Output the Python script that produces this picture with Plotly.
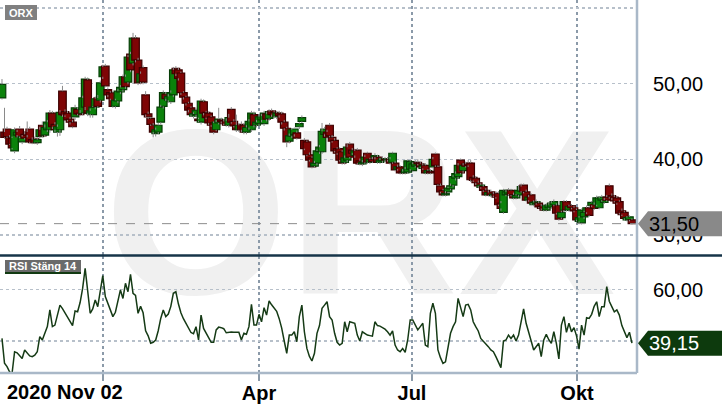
import plotly.graph_objects as go

# ---------------- data (one candle per trading day) ----------------
open_ = [48.1, 43.6, 44.0, 42.9, 42.8, 41.1, 43.2, 44.0, 42.3, 43.3,
         43.6, 44.0, 42.6, 42.7, 42.2, 43.0, 44.5, 43.2, 43.9, 43.9,
         46.1, 44.6, 43.6, 43.9, 49.0, 46.3, 46.1, 45.3, 44.9, 45.6,
         46.6, 46.1, 46.1, 46.9, 50.5, 46.0, 45.9, 46.9, 48.1, 47.8,
         50.9, 52.3, 49.2, 48.8, 48.8, 47.0, 47.7, 48.9, 49.2, 50.9,
         50.2, 53.9, 52.7, 56.0, 53.1, 50.2, 52.1, 48.5, 46.0, 45.4,
         44.5, 43.4, 43.6, 44.9, 47.0, 48.6, 47.8, 47.6, 48.5, 52.0,
         51.8, 51.4, 48.8, 48.2, 47.4, 46.8, 45.7, 45.9, 45.3, 44.9,
         47.6, 46.2, 46.1, 45.6, 44.8, 43.9, 44.8, 45.2, 45.0, 45.1,
         44.5, 46.6, 45.0, 44.5, 43.9, 44.6, 44.5, 43.6, 44.2, 43.9,
         45.9, 44.5, 44.7, 45.2, 44.7, 46.0, 45.4, 46.4, 46.2, 45.6,
         46.1, 46.0, 44.9, 44.1, 42.4, 43.1, 43.3, 43.5, 44.3, 45.0,
         42.5, 42.3, 40.6, 40.2, 39.1, 39.5, 41.0, 41.0, 43.3, 43.6,
         44.5, 42.9, 42.5, 41.4, 41.4, 41.0, 39.6, 39.9, 42.0, 41.2,
         40.5, 41.2, 39.8, 39.4, 39.6, 40.8, 39.6, 40.0, 40.3, 40.3,
         39.6, 39.8, 40.0, 39.9, 40.0, 39.6, 39.5, 38.7, 39.0, 38.4,
         38.2, 38.3, 38.7, 38.5, 39.1, 39.6, 39.4, 38.8, 39.2, 38.2,
         38.4, 39.0, 40.7, 39.0, 36.5, 35.9, 35.3, 35.7, 36.1, 36.6,
         37.5, 37.7, 39.9, 38.5, 39.4, 39.5, 39.5, 37.6, 37.5, 36.9,
         36.3, 36.4, 35.9, 35.3, 35.7, 35.2, 35.5, 35.5, 34.2, 33.0,
         35.3, 35.4, 35.9, 35.3, 34.9, 35.3, 35.8, 36.6, 35.7, 34.6,
         35.3, 34.0, 34.2, 34.2, 33.8, 33.9, 33.3, 33.6, 33.7, 34.0,
         33.9, 33.9, 32.3, 33.3, 34.4, 33.3, 33.9, 33.6, 33.3, 31.8,
         31.6, 32.4, 33.0, 33.6, 33.9, 34.0, 34.0, 33.6, 34.6, 34.3,
         35.0, 36.5, 35.2, 35.0, 34.9, 34.4, 33.2, 33.0, 32.0, 32.0,
         32.0]
high = [50.6, 46.8, 44.3, 43.2, 43.0, 44.2, 43.9, 44.4, 43.2, 43.6,
        45.0, 44.3, 42.9, 43.0, 42.9, 44.3, 45.0, 44.6, 45.2, 46.5,
        46.4, 44.9, 44.6, 46.5, 49.7, 46.6, 46.4, 45.6, 45.2, 47.2,
        46.9, 46.5, 48.4, 50.9, 50.8, 46.7, 47.0, 48.3, 48.5, 50.4,
        52.5, 52.6, 49.5, 49.0, 49.0, 48.0, 49.3, 49.8, 51.2, 51.2,
        53.8, 54.2, 56.7, 56.4, 53.4, 51.6, 52.4, 49.0, 46.3, 45.6,
        44.8, 44.2, 44.8, 47.2, 49.1, 48.9, 48.6, 49.1, 52.2, 52.3,
        52.1, 51.6, 49.0, 48.4, 47.6, 47.0, 46.2, 46.8, 45.5, 48.0,
        47.9, 46.4, 46.3, 45.8, 45.0, 45.2, 46.8, 45.5, 45.3, 45.4,
        46.0, 46.9, 45.3, 45.9, 44.8, 45.0, 44.8, 44.5, 45.3, 46.4,
        46.3, 45.2, 45.9, 46.0, 46.4, 46.3, 46.6, 46.7, 46.5, 46.4,
        46.4, 46.3, 45.2, 44.3, 43.4, 44.1, 44.2, 43.8, 44.9, 45.8,
        42.8, 42.5, 40.9, 40.4, 39.8, 41.3, 41.9, 44.8, 44.3, 43.9,
        44.8, 43.2, 42.8, 41.6, 41.6, 41.2, 40.5, 42.0, 42.3, 41.5,
        41.4, 41.5, 40.1, 39.9, 40.6, 41.0, 40.2, 40.3, 40.8, 40.6,
        40.2, 40.4, 40.3, 40.3, 40.3, 41.0, 39.8, 39.3, 39.2, 38.7,
        39.0, 40.0, 39.9, 39.6, 39.9, 40.0, 39.7, 39.5, 39.5, 38.7,
        38.7, 40.3, 40.9, 39.2, 36.8, 36.1, 35.8, 36.4, 36.8, 37.9,
        38.4, 39.5, 40.1, 39.5, 39.7, 39.9, 39.9, 37.9, 37.8, 37.2,
        36.9, 36.7, 36.2, 35.9, 36.0, 35.7, 35.8, 35.8, 34.5, 36.1,
        36.0, 36.2, 36.1, 35.6, 35.4, 36.6, 36.8, 36.8, 36.0, 35.3,
        35.5, 34.6, 34.7, 34.5, 34.1, 34.1, 34.2, 34.3, 34.5, 34.7,
        34.2, 34.1, 33.2, 34.6, 34.6, 34.0, 34.1, 33.9, 33.5, 32.5,
        33.5, 33.2, 33.9, 33.9, 34.5, 34.3, 35.2, 35.1, 35.3, 34.9,
        35.3, 36.8, 35.5, 35.3, 35.1, 34.6, 33.5, 33.2, 32.5, 32.6,
        32.2]
low = [47.9, 42.7, 42.8, 41.9, 41.3, 40.8, 42.9, 42.8, 42.0, 42.6,
       42.9, 42.1, 42.0, 42.0, 41.9, 42.7, 42.9, 43.0, 43.6, 43.5,
       44.0, 43.6, 43.0, 43.1, 45.6, 45.6, 45.0, 44.6, 44.1, 45.2,
       45.8, 45.7, 45.8, 46.5, 45.7, 45.5, 45.5, 46.6, 46.8, 47.5,
       50.6, 49.5, 48.2, 47.8, 46.8, 46.7, 47.4, 48.6, 48.9, 49.3,
       49.9, 51.5, 52.4, 52.8, 49.8, 49.9, 49.9, 45.6, 45.3, 44.4,
       42.9, 43.0, 43.3, 44.6, 46.7, 47.7, 47.5, 47.3, 48.2, 51.0,
       50.4, 48.5, 47.9, 47.1, 46.2, 45.6, 45.4, 45.6, 44.9, 44.6,
       45.8, 45.3, 44.5, 44.3, 43.3, 43.7, 44.6, 44.7, 44.5, 44.3,
       44.2, 44.7, 44.2, 43.6, 43.6, 43.6, 43.3, 43.3, 43.9, 43.6,
       44.2, 44.2, 44.4, 44.9, 44.4, 45.0, 45.1, 45.6, 45.4, 45.3,
       45.5, 44.6, 43.8, 41.6, 42.1, 42.8, 43.0, 42.6, 44.0, 44.8,
       41.2, 40.4, 39.7, 38.8, 38.9, 39.2, 40.7, 40.7, 43.0, 42.7,
       42.9, 42.2, 40.9, 40.6, 39.7, 39.3, 39.3, 39.6, 40.1, 40.6,
       40.2, 39.3, 39.2, 39.1, 39.4, 39.4, 39.4, 39.5, 40.0, 39.4,
       39.4, 39.5, 39.7, 39.7, 39.3, 39.4, 38.4, 38.5, 38.0, 38.0,
       38.0, 38.1, 38.4, 38.3, 38.9, 39.2, 38.8, 38.6, 38.0, 38.0,
       38.0, 38.8, 39.0, 36.5, 35.5, 35.1, 35.1, 35.5, 35.9, 36.3,
       37.2, 37.4, 38.0, 38.2, 38.9, 39.0, 37.0, 37.0, 36.6, 36.2,
       36.1, 35.7, 35.1, 35.1, 35.0, 35.0, 34.8, 33.8, 33.2, 32.8,
       35.1, 35.2, 35.1, 34.7, 34.7, 35.0, 35.6, 35.5, 34.4, 34.4,
       34.0, 33.8, 34.0, 33.5, 33.3, 33.1, 33.1, 33.4, 33.5, 33.8,
       32.7, 31.9, 32.1, 33.0, 33.1, 33.1, 33.4, 33.0, 31.8, 31.6,
       31.4, 32.1, 32.8, 32.4, 33.7, 33.3, 33.8, 33.4, 34.4, 34.1,
       34.4, 34.8, 34.6, 34.3, 34.0, 32.7, 32.5, 32.0, 31.8, 31.8,
       31.4]
close = [49.9, 42.9, 43.0, 42.0, 41.5, 43.9, 43.6, 43.0, 43.0, 42.8,
         43.2, 42.3, 42.2, 42.2, 42.6, 43.9, 43.1, 44.2, 44.9, 46.1,
         44.3, 43.9, 44.3, 46.2, 45.9, 45.8, 45.2, 44.9, 44.3, 46.8,
         46.0, 45.9, 48.1, 50.6, 46.1, 46.4, 46.9, 48.0, 47.0, 50.1,
         52.2, 49.7, 48.5, 48.0, 47.0, 47.8, 49.0, 49.5, 50.9, 49.6,
         53.5, 51.8, 56.0, 53.1, 50.1, 51.3, 50.2, 45.9, 45.6, 44.6,
         43.6, 43.9, 44.5, 46.9, 48.8, 48.0, 48.3, 48.8, 51.8, 51.3,
         50.7, 48.8, 48.2, 47.4, 46.5, 45.9, 46.0, 46.5, 45.1, 47.7,
         46.1, 45.5, 44.8, 44.5, 43.6, 44.9, 45.3, 45.0, 44.7, 44.5,
         45.5, 44.9, 44.4, 43.9, 44.5, 43.9, 43.6, 44.2, 45.0, 46.1,
         44.5, 44.9, 45.6, 45.7, 46.1, 45.3, 46.3, 45.9, 45.7, 46.1,
         45.8, 44.9, 44.1, 42.3, 43.1, 43.9, 44.0, 42.8, 44.7, 45.5,
         41.4, 40.6, 39.9, 39.0, 39.5, 41.1, 41.6, 43.7, 44.0, 42.9,
         43.1, 42.4, 41.1, 40.8, 39.9, 39.5, 40.2, 41.6, 40.3, 40.8,
         41.1, 39.5, 39.4, 39.6, 40.3, 39.6, 40.0, 39.7, 40.5, 39.6,
         39.9, 40.1, 39.9, 40.0, 39.5, 40.8, 38.6, 39.0, 38.2, 38.2,
         38.7, 39.8, 39.7, 39.4, 39.6, 39.4, 39.0, 39.2, 38.2, 38.5,
         38.2, 40.0, 39.2, 36.7, 35.7, 35.3, 35.5, 36.2, 36.5, 37.7,
         38.1, 39.2, 38.2, 39.2, 39.1, 39.2, 37.3, 37.2, 36.9, 36.5,
         36.6, 35.9, 35.3, 35.6, 35.3, 35.4, 35.0, 34.0, 33.5, 35.9,
         35.7, 35.9, 35.3, 34.9, 35.2, 35.9, 36.4, 35.7, 34.6, 35.0,
         34.2, 34.3, 34.4, 33.7, 33.5, 33.3, 33.9, 34.0, 34.2, 34.4,
         32.9, 32.1, 33.0, 34.4, 33.3, 33.8, 33.6, 33.2, 32.0, 32.3,
         33.3, 33.0, 33.6, 32.6, 34.3, 33.5, 34.9, 34.9, 35.0, 34.6,
         34.6, 35.0, 34.9, 34.5, 34.2, 32.9, 32.7, 32.2, 32.3, 32.4,
         31.5]
rsi = [41.0, 31.3, 30.0, 28.0, 27.4, 35.8, 35.4, 34.2, 33.2, 36.5,
       35.2, 34.2, 33.9, 34.5, 35.8, 41.7, 40.4, 43.2, 45.6, 52.1,
       45.6, 46.2, 50.5, 54.0, 52.6, 51.0, 49.5, 48.0, 46.0, 51.7,
       51.4, 55.0, 60.5, 68.3, 59.2, 50.8, 52.5, 56.0, 53.4, 60.5,
       65.5, 57.3, 54.4, 52.0, 49.5, 51.2, 55.0, 59.9, 56.6, 62.5,
       59.2, 66.0, 58.6, 57.8, 50.8, 53.5, 51.0, 44.0, 42.0, 39.1,
       39.5, 40.4, 44.0, 48.8, 52.1, 49.5, 50.5, 53.5, 58.6, 59.2,
       54.5, 51.0, 48.7, 46.7, 44.8, 43.3, 42.8, 45.6, 40.4, 50.1,
       44.9, 43.3, 41.3, 39.5, 39.5, 44.3, 45.4, 45.2, 44.8, 43.2,
       43.4, 43.5, 43.4, 43.4, 43.4, 40.4, 43.0, 42.6, 45.6, 54.3,
       46.2, 46.2, 50.4, 47.5, 53.0, 50.1, 55.6, 54.1, 52.7, 51.6,
       48.7, 45.0, 40.0, 35.2, 42.3, 42.3, 43.6, 39.7, 49.5, 54.0,
       43.6, 37.1, 34.0, 32.2, 35.2, 43.0, 46.0, 52.7, 54.0, 55.3,
       49.5, 48.2, 43.0, 39.5, 38.4, 39.1, 47.5, 43.6, 47.5, 47.2,
       46.9, 42.3, 40.0, 43.6, 43.0, 42.3, 42.1, 41.9, 47.5, 46.0,
       45.8, 45.2, 44.6, 43.6, 42.3, 43.9, 38.4, 36.5, 35.8, 37.1,
       35.6, 40.4, 48.2, 48.2, 46.2, 44.3, 45.6, 46.9, 38.4, 37.8,
       50.8, 54.7, 50.8, 36.5, 33.5, 31.3, 31.9, 38.4, 43.0, 45.6,
       47.5, 56.6, 53.0, 49.5, 54.0, 54.3, 52.1, 47.5, 45.6, 43.9,
       41.0, 40.0, 39.1, 37.8, 36.5, 35.8, 33.9, 32.0, 29.6, 40.0,
       40.4, 42.3, 41.0, 42.3, 40.0, 42.3, 47.5, 52.5, 46.9, 43.0,
       40.0, 36.5, 38.0, 39.1, 33.9, 40.4, 42.6, 40.5, 39.1, 43.6,
       39.1, 33.0, 46.2, 49.5, 43.4, 46.9, 43.6, 45.2, 42.0, 36.8,
       46.2, 42.3, 49.1, 48.8, 50.4, 53.5, 55.3, 49.5, 53.4, 53.4,
       61.2, 55.5, 53.4, 51.4, 52.1, 50.1, 46.0, 43.6, 41.3, 43.4,
       39.15]

# trading-day positions of the month gridlines (Jan, Apr, Jul, Okt)
month_tick_pos = [40.0, 102.0, 162.7, 228.2]
month_labels = ["", "Apr", "Jul", "Okt"]
start_label = "2020 Nov 02"
ticker = "ORX"
rsi_label = "RSI Stäng 14"
price_ticks = [30, 40, 50, 60]
price_ticktext = ["30,00", "40,00", "50,00", ""]
rsi_ticks = [40, 60]
rsi_ticktext = ["", "60,00"]

# ---------------- styling ----------------
FONT = "Liberation Sans, Arial, sans-serif"
UP_FILL, DN_FILL = "#0b820b", "#7e0505"
UP_LINE, DN_LINE = "#063d06", "#3c0000"
WICK = "#8a8a8a"
VGRID = "#8b9aa9"
HGRID = "#b7c0ca"
FRAME = "#a9b8c8"

idx = list(range(len(close)))
is_up = [c >= o for o, c in zip(open_, close)]
fills = [UP_FILL if u else DN_FILL for u in is_up]
edges = [UP_LINE if u else DN_LINE for u in is_up]

# wick segments outside the bodies
wx, wy = [], []
for i, o, h, l, c in zip(idx, open_, high, low, close):
    top, bot = max(o, c), min(o, c)
    wx += [i, i, None, i, i, None]
    wy += [h, top, None, bot, l, None]

fig = go.Figure()

fig.add_trace(go.Bar(
    x=idx, base=open_, y=[c - o for o, c in zip(open_, close)],
    width=3.0, marker=dict(color=fills, line=dict(color=edges, width=1.2)),
    hoverinfo="skip", showlegend=False, xaxis="x", yaxis="y"))

fig.add_trace(go.Scatter(
    x=wx, y=wy, mode="lines", line=dict(color=WICK, width=1),
    hoverinfo="skip", showlegend=False, xaxis="x", yaxis="y"))

fig.add_trace(go.Scatter(
    x=idx, y=rsi, mode="lines", line=dict(color="#153a15", width=1.5),
    hoverinfo="skip", showlegend=False, xaxis="x2", yaxis="y2"))

W, H = 722, 410
PLOT_R, PLOT_B = 637, 373
SEP = 255.5


def py(p):  # pixel y -> paper y
    return (PLOT_B - p) / PLOT_B


def px(p):  # pixel x -> paper x
    return p / PLOT_R


xcommon = dict(range=[-0.79, 252.0], tickvals=month_tick_pos, showgrid=True,
               gridcolor=VGRID, griddash="dot", gridwidth=1.6,
               zeroline=False, showline=False, fixedrange=True)
ycommon = dict(side="right", showgrid=True, gridcolor=HGRID, griddash="dot",
               gridwidth=1.5, zeroline=False, showline=False, ticks="",
               ticklabelstandoff=15,
               tickfont=dict(family=FONT, size=20, color="#000000"))

last_close = close[-1]
last_rsi = rsi[-1]
fmt = lambda v: f"{v:.2f}".replace(".", ",")

tag_path = "M 1,0 L 11,12.5 L 90,12.5 L 90,-12.5 L 11,-12.5 Z"

fig.update_layout(
    width=W, height=H,
    margin=dict(l=0, r=W - PLOT_R, t=0, b=H - PLOT_B, autoexpand=False),
    paper_bgcolor="#ffffff", plot_bgcolor="rgba(0,0,0,0)",
    font=dict(family=FONT),
    bargap=0, barmode="overlay",
    xaxis=dict(domain=[0, 1], anchor="y", showticklabels=False, ticks="", **xcommon),
    xaxis2=dict(domain=[0, 1], anchor="y2", matches="x", ticktext=month_labels,
                ticks="outside", ticklen=7, tickwidth=2, tickcolor=VGRID,
                ticklabelstandoff=-5,
                tickfont=dict(family=FONT, size=20, color="#000000", weight="bold"),
                **xcommon),
    yaxis=dict(domain=[py(SEP - 0.5), 1], anchor="x", range=[27.36, 61.04],
               tickvals=price_ticks, ticktext=price_ticktext, fixedrange=True, **ycommon),
    yaxis2=dict(domain=[0, py(SEP + 0.5)], anchor="x2", range=[27.52, 73.14],
                tickvals=rsi_ticks, ticktext=rsi_ticktext, fixedrange=True, **ycommon),
    shapes=[
        # watermark, behind everything
        dict(type="rect", xref="paper", yref="paper", x0=px(60), x1=px(660),
             y0=py(300), y1=py(80), line=dict(width=0), fillcolor="rgba(0,0,0,0)",
             layer="below",
             label=dict(text="<b>" + ticker + "</b>", textposition="middle center",
                        font=dict(family=FONT, size=236, color="#f0f0f0"))),
        # last price dashed line
        dict(type="line", xref="paper", yref="y", x0=0, x1=1, y0=last_close, y1=last_close,
             line=dict(color="#8c8c8c", width=1, dash="dash"), layer="above"),
        # frames
        dict(type="line", xref="paper", yref="paper", x0=1, x1=1, y0=0, y1=1,
             line=dict(color=FRAME, width=2.5)),
        dict(type="line", xref="paper", yref="paper", x0=0, x1=1, y0=0, y1=0,
             line=dict(color=FRAME, width=2.5)),
        dict(type="line", xref="paper", yref="paper", x0=0, x1=W / PLOT_R,
             y0=py(SEP), y1=py(SEP), line=dict(color="#163449", width=2.5)),
        # price tag
        dict(type="path", xref="paper", yref="y", xsizemode="pixel", ysizemode="pixel",
             xanchor=1, yanchor=last_close, path=tag_path,
             fillcolor="#898989", line=dict(width=0), layer="above"),
        # rsi tag
        dict(type="path", xref="paper", yref="y2", xsizemode="pixel", ysizemode="pixel",
             xanchor=1, yanchor=last_rsi, path=tag_path,
             fillcolor="#0d3a0d", line=dict(width=0), layer="above"),
        # ticker box
        dict(type="rect", xref="paper", yref="paper", x0=px(5), x1=px(37),
             y0=py(20), y1=py(5), fillcolor="#808080", line=dict(width=0)),
        # rsi label box
        dict(type="rect", xref="paper", yref="paper", x0=px(5), x1=px(81),
             y0=py(272), y1=py(260), fillcolor="#6a6a6a", line=dict(width=0)),
        dict(type="line", xref="paper", yref="paper", x0=px(5), x1=px(81),
             y0=py(273), y1=py(273), line=dict(color="#123a12", width=2)),
    ],
    annotations=[
        dict(xref="paper", yref="paper", x=px(21), y=py(12.5), xanchor="center",
             yanchor="middle", text="<b>" + ticker + "</b>",
             showarrow=False, font=dict(family=FONT, size=11, color="#ffffff")),
        dict(xref="paper", yref="paper", x=px(43), y=py(266.5), xanchor="center",
             yanchor="middle", text="<b>" + rsi_label + "</b>",
             showarrow=False, font=dict(family=FONT, size=11, color="#ffffff")),
        dict(xref="paper", yref="paper", x=px(5), y=py(392), xanchor="left", yanchor="middle",
             text="<b>" + start_label + "</b>", showarrow=False,
             font=dict(family=FONT, size=20, color="#000000")),
        dict(xref="paper", yref="y", x=1, y=last_close, xanchor="left", yanchor="middle",
             xshift=10, text=fmt(last_close), showarrow=False,
             font=dict(family=FONT, size=20, color="#000000")),
        dict(xref="paper", yref="y2", x=1, y=last_rsi, xanchor="left", yanchor="middle",
             xshift=10, text=fmt(last_rsi), showarrow=False,
             font=dict(family=FONT, size=20, color="#ffffff")),
    ],
)

fig.write_html(
    "out.html",
    config={"displayModeBar": False, "staticPlot": True},
    post_script="document.body.style.margin='0px';document.body.style.overflow='hidden';",
)
